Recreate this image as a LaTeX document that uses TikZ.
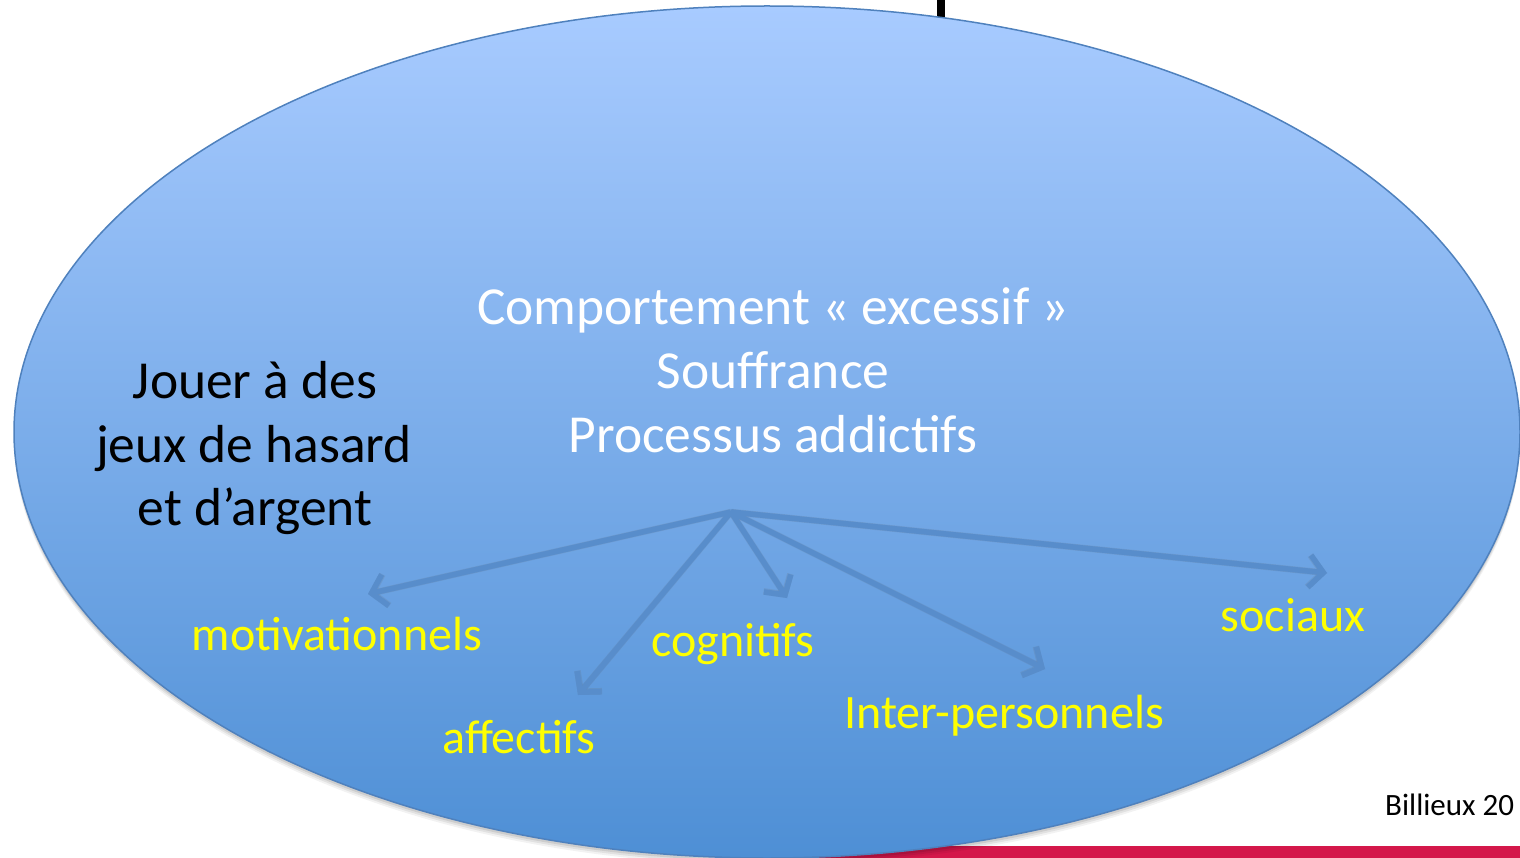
\documentclass[tikz,border=0pt]{standalone}
\usepackage{fontspec}
\setmainfont{Carlito}
\usetikzlibrary{arrows.meta}
\definecolor{elltop}{RGB}{168,203,255}
\definecolor{ellbot}{RGB}{78,143,213}
\definecolor{ellline}{RGB}{79,129,189}
\definecolor{arrcol}{RGB}{88,141,203}
\definecolor{txtyellow}{RGB}{255,255,0}
\definecolor{barred}{RGB}{212,23,74}
\tikzset{
  whitetxt/.style={text=white,font=\fontsize{53.5}{64}\selectfont,anchor=base,inner sep=0pt},
  blacktxt/.style={text=black,font=\fontsize{53.5}{64}\selectfont,anchor=base,inner sep=0pt},
  yelltxt/.style={text=txtyellow,font=\fontsize{48}{58}\selectfont,anchor=base,inner sep=0pt},
  reftxt/.style={text=black,font=\fontsize{31}{37}\selectfont,anchor=base west,inner sep=0pt},
  arrowline/.style={draw=arrcol,line width=5.5pt,-{Straight Barb[length=14pt,width=32pt]}},
  arrowshadow/.style={draw=black!60,opacity=0.16,line width=6.5pt,-{Straight Barb[length=14pt,width=32pt]},xshift=1.5pt,yshift=-2.5pt}
}
\begin{document}
\begin{tikzpicture}[x=1pt,y=-1pt]
\useasboundingbox (0,0) rectangle (1520,858);
\clip (0,0) rectangle (1520,858);
% bars behind the ellipse
\fill[black] (937,0) rectangle (945,20);
\fill[barred] (780,846) rectangle (1520,858);
% ellipse shadow
\foreach \s/\o in {7/0.05,5/0.07,3/0.09}{
  \fill[black,opacity=\o] (767,432+\s) ellipse [x radius=753pt, y radius=426pt];
}
% ellipse
\draw[ellline,line width=1.5pt,top color=elltop,bottom color=ellbot]
  (767,432) ellipse [x radius=753pt, y radius=426pt];
% central texts
\node[whitetxt] (t1) at (773,325) {Comportement « excessif »};
\node[whitetxt] (t2) at (773,388.5) {Souffrance};
\node[whitetxt] (t3) at (773,452) {Processus addictifs};
% left texts
\node[blacktxt] (j1) at (255,398) {Jouer à des};
\node[blacktxt] (j2) at (254,462) {jeux de hasard};
\node[blacktxt] (j3) at (255,525) {et d’argent};
% yellow labels
\node[yelltxt] (mot) at (337,650) {motivationnels};
\node[yelltxt] (cog) at (733,656) {cognitifs};
\node[yelltxt] (aff) at (519,753) {affectifs};
\node[yelltxt] (int) at (1004,728) {Inter-personnels};
\node[yelltxt] (soc) at (1293,631) {sociaux};
% arrows
\coordinate (hub) at (731,512);
\coordinate (amot) at (368,594);
\coordinate (aaff) at (578,695);
\coordinate (acog) at (787,598);
\coordinate (aint) at (1045,669);
\coordinate (asoc) at (1327,573);
\foreach \t in {amot,aaff,acog,aint,asoc}{
  \draw[arrowshadow] (hub) -- (\t);
}
\foreach \t in {amot,aaff,acog,aint,asoc}{
  \draw[arrowline] (hub) -- (\t);
}
% reference
\node[reftxt] (ref) at (1385,815) {Billieux 20};
\end{tikzpicture}
\end{document}
